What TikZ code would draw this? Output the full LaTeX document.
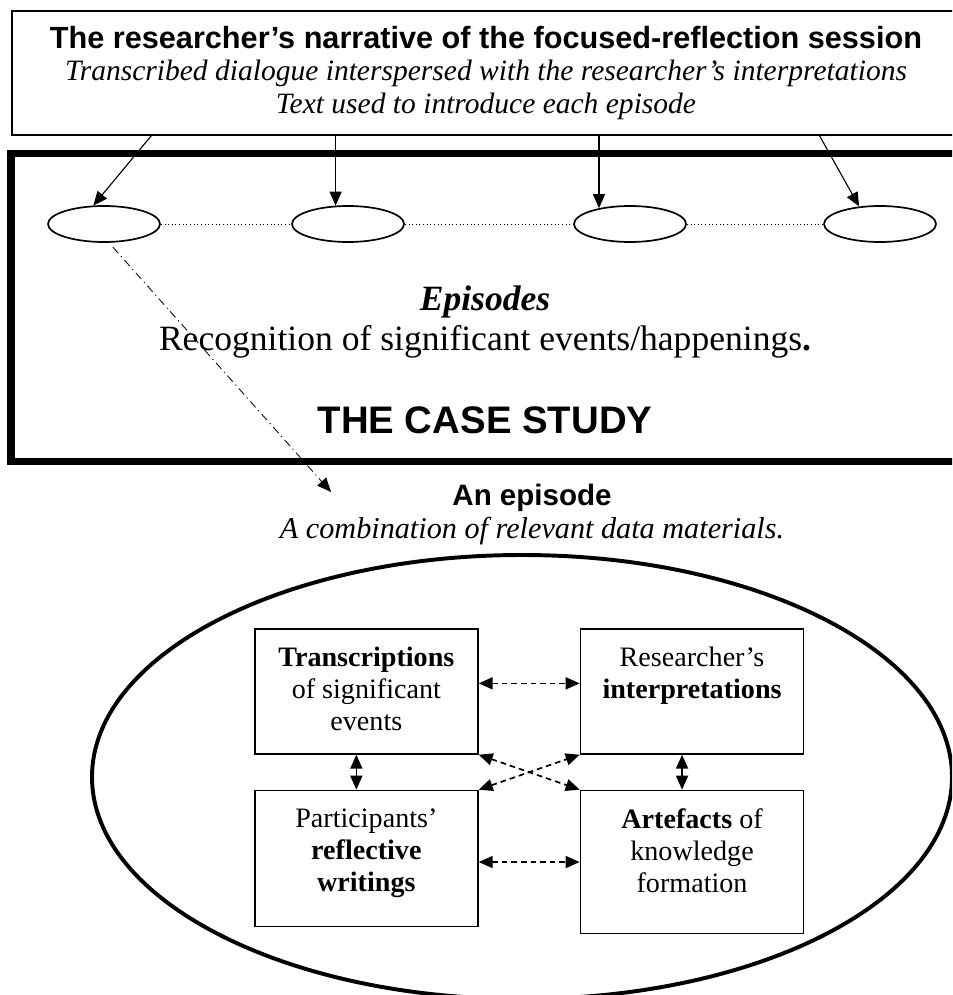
\documentclass[tikz,border=0pt]{standalone}
\usepackage{fontspec}
\setmainfont{Liberation Serif}
\setsansfont{Liberation Sans}
\usetikzlibrary{arrows.meta,shapes.geometric,positioning}

\newcommand{\boxlines}[2]{\parbox[c][#1][t]{55.75mm}{\centering\fontsize{20}{22.8}\selectfont\vspace*{4.5mm}#2}}

\tikzset{
  narrbox/.style={draw,line width=0.8pt,minimum width=237mm,minimum height=31mm,
    align=center,inner sep=0pt,font=\fontsize{21}{23.2}\selectfont},
  casebox/.style={draw,line width=5.5pt,minimum width=237.25mm,minimum height=77mm},
  episode/.style={draw,ellipse,line width=1.2pt,minimum width=28mm,minimum height=9mm,inner sep=0pt},
  epbox/.style={draw,line width=1.2pt,inner sep=0pt},
  feed/.style={->,line width=0.8pt},
  probe/.style={->,line width=0.6pt,dash pattern=on 2mm off 1mm on 0.3mm off 1mm,shorten <=1.5mm},
  rel/.style={<->,line width=1.2pt},
  reldash/.style={rel,dash pattern=on 1.4mm off 1mm}
}

\begin{document}
\begin{tikzpicture}[x=0.25mm,y=-0.25mm,>={Triangle[length=3.5mm,width=3mm]}]
  \clip (0,0) rectangle (952,995);

  % narrative of the session
  \node[narrbox] (narr) at (486,73)
    {{\sffamily\bfseries\fontsize{21.8}{23.2}\selectfont The researcher's narrative of the focused-reflection session}\\
     \textit{Transcribed dialogue interspersed with the researcher's interpretations}\\
     \textit{Text used to introduce each episode}};

  % the case study
  \node[casebox] (case) at (485.5,307.5) {};
  \foreach \n/\x in {1/104,2/348,3/630,4/880}
    \node[episode] (e\n) at (\x,224) {};
  \foreach \a/\b in {1/2,2/3,3/4}
    \draw[dotted,line width=0.6pt] (e\a) -- (e\b);

  \node[anchor=base,font=\fontsize{25.3}{28}\selectfont\bfseries\itshape] (epis) at (485,310) {Episodes};
  \node[anchor=base,font=\fontsize{25.3}{28}\selectfont] (recog) at (485,350)
    {Recognition of significant events/happenings\textbf{.}};
  \node[anchor=base,font=\sffamily\bfseries\fontsize{27.3}{30}\selectfont] (title) at (485,433) {THE CASE STUDY};

  \draw[feed] ([xshift=35mm]narr.south west) -- (e1.120);
  \draw[feed] (e2.124 |- narr.south) -- (e2.124);
  \draw[feed] (e3.153 |- narr.south) -- (e3.153);
  \draw[feed] ([xshift=202mm]narr.south west) -- (e4.140);

  % one episode
  \node[anchor=base,font=\sffamily\bfseries\fontsize{21}{24}\selectfont] (epi) at (532,505) {An episode};
  \node[anchor=base,font=\itshape\fontsize{21.5}{24}\selectfont] (combi) at (532,538)
    {A combination of relevant data materials.};
  \coordinate (epi-tip) at (331,492);
  \draw[probe] (e1.-75) -- (epi-tip);

  \node[draw,ellipse,line width=2.8pt,minimum width=215mm,minimum height=111mm,inner sep=0pt] (epset) at (522,777) {};

  \node[epbox,anchor=north west] (tl) at (254,628)
    {\boxlines{31.25mm}{\textbf{Transcriptions}\\ of significant\\ events}};
  \node[epbox,right=25.25mm of tl] (tr)
    {\boxlines{31.25mm}{Researcher's\\ \textbf{interpretations}}};
  \node[epbox,below=8.75mm of tl] (bl)
    {\boxlines{34mm}{Participants'\\ \textbf{reflective}\\ \textbf{writings}}};
  \node[epbox,below=8.75mm of tr] (br)
    {\boxlines{35.75mm}{\textbf{Artefacts} of\\ knowledge\\ formation}};

  \draw[reldash] ([yshift=2mm]tl.east) -- ([yshift=2mm]tr.west);
  \draw[reldash] (br.west -| bl.east) -- (br.west);
  \draw[rel] ([xshift=-2.5mm]tl.south) -- ([xshift=-2.5mm]bl.north);
  \draw[rel] ([xshift=-2.5mm]tr.south) -- ([xshift=-2.5mm]br.north);
  \draw[reldash] (tl.south east) -- (br.north west);
  \draw[reldash] (bl.north east) -- (tr.south west);
\end{tikzpicture}
\end{document}
